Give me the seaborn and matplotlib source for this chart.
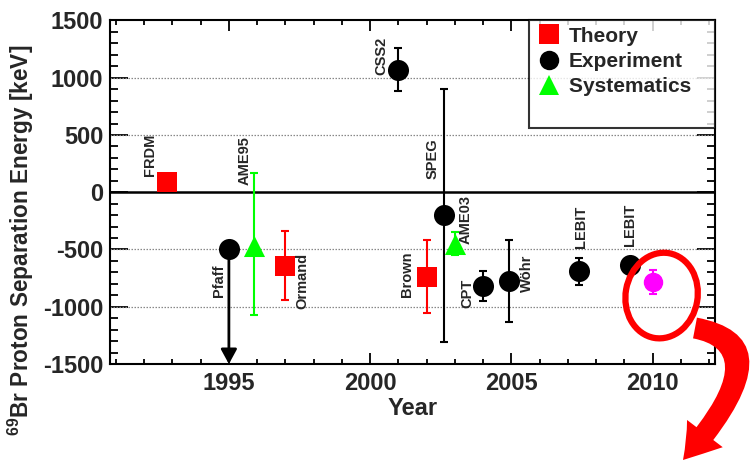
import numpy as np
import pandas as pd
import matplotlib
matplotlib.use("Agg")
import matplotlib.pyplot as plt
import matplotlib.patches as mpatches
import matplotlib.transforms as mtransforms
from matplotlib.path import Path
from matplotlib.lines import Line2D
import seaborn as sns

# ---------------- data ----------------
labels = ["FRDM", "Pfaff", "AME95", "Ormand", "CSS2", "Brown", "SPEG",
          "AME03", "CPT", "Wöhr", "LEBIT", "LEBIT"]
kinds = ["Theory", "Experiment", "Systematics", "Theory", "Experiment", "Theory",
         "Experiment", "Systematics", "Experiment", "Experiment", "Experiment", "Experiment"]
years = [1992.8, 1995.0, 1995.9, 1997.0, 2001.0, 2002.0, 2002.6,
         2003.0, 2004.0, 2004.9, 2007.4, 2009.2]
values = [90, -500, -470, -640, 1070, -740, -200, -450, -815, -775, -690, -635]
err_lo = [0, 0, 600, 300, 185, 315, 1110, 100, 135, 355, 120, 50]
err_hi = [0, 0, 635, 300, 190, 320, 1100, 100, 130, 355, 120, 50]
upper_limit = [False, True, False, False, False, False, False,
               False, False, False, False, False]

new_year = [2010.0]
new_value = [-780]
new_err = [105]

kind_order = ["Theory", "Experiment", "Systematics"]
y_ticks = [-1500, -1000, -500, 0, 500, 1000, 1500]
x_ticks = [1995, 2000, 2005, 2010]

# ---------------- style ----------------
sns.set_theme(style="ticks")
plt.rcParams["font.family"] = ["Liberation Sans", "DejaVu Sans"]
plt.rcParams["font.weight"] = "bold"
plt.rcParams["axes.unicode_minus"] = False
plt.rcParams["mathtext.fontset"] = "custom"
plt.rcParams["mathtext.rm"] = "Liberation Sans:bold"
plt.rcParams["mathtext.bf"] = "Liberation Sans:bold"
plt.rcParams["mathtext.default"] = "bf"

colors = {"Theory": "#ff0000", "Experiment": "#000000", "Systematics": "#00ff00"}
markers = {"Theory": "s", "Experiment": "o", "Systematics": "^"}
msize = {"Theory": 200, "Experiment": 230, "Systematics": 230}

# label offsets (points) and alignments
label_style = {
    0: (-12, 4, "bottom"),
    1: (-7, -11, "top"),
    2: (-7, 44, "bottom"),
    3: (12, 9, "top"),
    4: (-12, -4, "bottom"),
    5: (-14, 18, "top"),
    6: (-8, 26, "bottom"),
    7: (8, 0, "bottom"),
    8: (-11, -16, "bottom"),
    9: (13, 19, "top"),
    10: (1.5, 17, "bottom"),
    11: (0, 14, "bottom"),
}

fig = plt.figure(figsize=(7.5, 4.7), dpi=100)
ax = fig.add_axes([0.147, 0.2255, 0.806, 0.731])

df = pd.DataFrame({"Year": years, "Energy": values, "Kind": kinds,
                   "lo": err_lo, "hi": err_hi})

# grid lines (dotted) and zero line
for yv in y_ticks:
    if yv in (-1500, 1500):
        continue
    if yv == 0:
        ax.axhline(yv, color="black", lw=1.8, zorder=1)
    else:
        ax.axhline(yv, color="#888888", lw=0.9, ls=(0, (1.2, 1.2)), zorder=1)

# error bars
for k in kind_order:
    sub = df[(df["Kind"] == k) & ((df["lo"] > 0) | (df["hi"] > 0))]
    ax.errorbar(sub["Year"], sub["Energy"], yerr=[sub["lo"], sub["hi"]],
                fmt="none", ecolor=colors[k], elinewidth=1.5, capsize=3,
                capthick=1.5, zorder=2)

# upper limit arrows
ylim = (-1500, 1500)
for x, y, ul in zip(years, values, upper_limit):
    if ul:
        ax.annotate("", xy=(x, ylim[0]), xytext=(x, y),
                    arrowprops=dict(arrowstyle="-|>,head_length=0.55,head_width=0.3",
                                    mutation_scale=16, lw=2, color="black",
                                    shrinkA=0, shrinkB=0), zorder=2)

# markers
for k in kind_order:
    sub = df[df["Kind"] == k]
    sns.scatterplot(data=sub, x="Year", y="Energy", color=colors[k],
                    marker=markers[k], s=msize[k], linewidth=0, ax=ax,
                    zorder=4, legend=False)

# new measurement
ax.errorbar(new_year, new_value, yerr=new_err, fmt="o", color="#ff00ff",
            markersize=13, elinewidth=1.5, capsize=3, capthick=1.5, zorder=4)

# point labels
for i, (lab, x, y) in enumerate(zip(labels, years, values)):
    dx, dy, va = label_style[i]
    ax.annotate(lab, xy=(x, y), xytext=(dx, dy), textcoords="offset points",
                rotation=90, ha="center", va=va, fontsize=10.5,
                fontweight="bold", zorder=5)

# axes
ax.set_xlim(1990.8, 2012.2)
ax.set_ylim(*ylim)
ax.set_xticks(x_ticks)
ax.set_yticks(y_ticks)
ax.set_xticks(np.arange(1991, 2013, 1), minor=True)
ax.set_yticks(np.arange(-1500, 1501, 100), minor=True)
ax.tick_params(axis="both", which="both", direction="in", top=True, right=True,
               labelsize=17, width=1.3, color="black")
ax.tick_params(axis="y", which="major", length=13, pad=5)
ax.tick_params(axis="y", which="minor", length=6)
ax.tick_params(axis="x", which="major", length=8, pad=6)
ax.tick_params(axis="x", which="minor", length=3.5)
for lbl in ax.get_xticklabels() + ax.get_yticklabels():
    lbl.set_fontweight("bold")
for sp in ax.spines.values():
    sp.set_linewidth(1.5)
    sp.set_color("black")
ax.axhline(ylim[0], color="#d04040", lw=1.0, zorder=0)

ax.set_xlabel("Year", fontsize=17, fontweight="bold", labelpad=1)
ax.set_ylabel("$^{69}$Br Proton Separation Energy [keV]", fontsize=16.3,
              fontweight="bold")
ax.yaxis.set_label_coords(-0.123, 0.36)

# legend
handles = [Line2D([], [], ls="none", marker=markers[k], color=colors[k],
                  markersize=14, markeredgewidth=0) for k in kind_order]
handles.append(Line2D([], [], ls="none"))
leg_labels = ["Theory", "Experiment", "Systematics   ", " "]
leg = ax.legend(handles, leg_labels, loc="upper right",
                bbox_to_anchor=(1.0, 1.0), borderaxespad=0, frameon=True,
                fancybox=False, edgecolor="black",
                prop={"weight": "bold", "size": 15}, handletextpad=0.3,
                labelspacing=0.3, borderpad=0.3, handlelength=1.3)
leg.get_frame().set_linewidth(1.5)
leg.set_zorder(6)

# red highlight ellipse around the new point
trans = fig.dpi_scale_trans + mtransforms.ScaledTranslation(
    new_year[0], new_value[0], ax.transData)
ell = mpatches.Ellipse((0.09, -0.14), 0.72, 0.86, angle=-10, fill=False,
                       edgecolor="#ff0000", lw=4.5, transform=trans,
                       clip_on=False, zorder=7)
fig.add_artist(ell)

# curved red arrow leading out of the plot
W, H = 750.0, 470.0
pA = (695 / W, 1 - 328 / H)
pC = (785 / W, 1 - 345 / H)
pB = (683 / W, 1 - 460 / H)
path = Path([pA, pC, pB], [Path.MOVETO, Path.CURVE3, Path.CURVE3])
arrow = mpatches.FancyArrowPatch(
    path=path, transform=fig.transFigure,
    arrowstyle="simple,head_length=1.3,head_width=1.7,tail_width=0.8",
    mutation_scale=19, color="#ff0000", lw=0, clip_on=False, zorder=7)
fig.add_artist(arrow)

fig.savefig("out.png", dpi=100)
